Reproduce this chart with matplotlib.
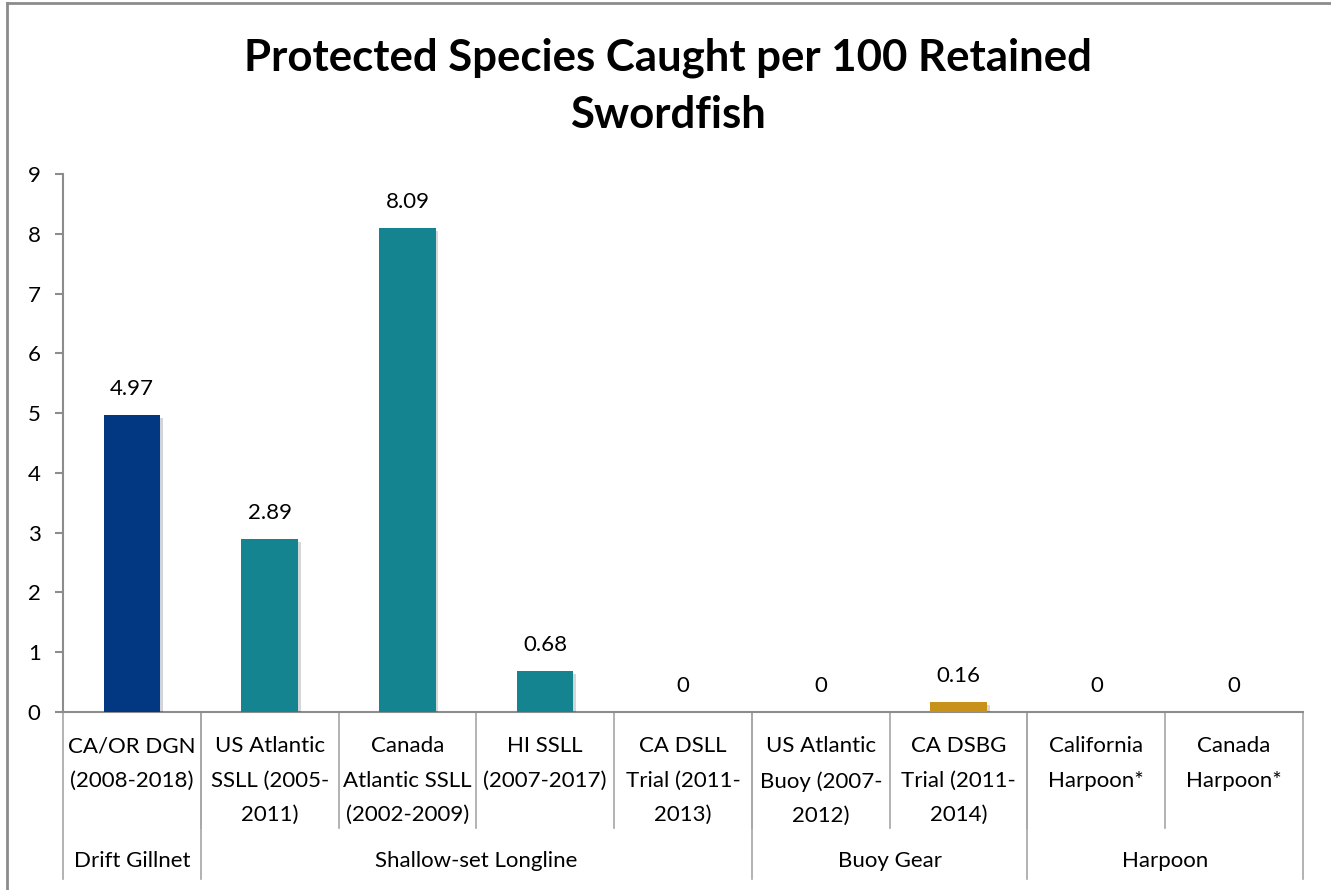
import matplotlib.pyplot as plt
import matplotlib.patheffects as pe
from matplotlib.lines import Line2D

plt.rcParams['font.family'] = ['Lato', 'DejaVu Sans']

# catch rates per gear / fishery
categories = ["CA/OR DGN\n(2008-2018)", "US Atlantic\nSSLL (2005-\n2011)",
              "Canada\nAtlantic SSLL\n(2002-2009)", "HI SSLL\n(2007-2017)",
              "CA DSLL\nTrial (2011-\n2013)", "US Atlantic\nBuoy (2007-\n2012)",
              "CA DSBG\nTrial (2011-\n2014)", "California\nHarpoon*", "Canada\nHarpoon*"]
values = [4.97, 2.89, 8.09, 0.68, 0, 0, 0.16, 0, 0]
groups = ["Drift Gillnet", "Shallow-set Longline", "Buoy Gear", "Harpoon"]
group_sizes = [1, 4, 2, 2]
bar_colors = ["#023781", "#148491", "#148491", "#148491", "#148491",
              "#148491", "#C8921A", "#148491", "#148491"]

fig = plt.figure(figsize=(13.31, 8.90), dpi=100)
ax = fig.add_axes([0.0473, 0.2, 0.9317, 0.6045])

x = range(len(values))
bars = ax.bar(x, values, width=0.41, color=bar_colors, zorder=3)
for b in bars:
    b.set_path_effects([pe.SimplePatchShadow(offset=(2, -2), alpha=0.18), pe.Normal()])
for xi, v in zip(x, values):
    ax.annotate(f"{v:g}" if v == 0 else f"{v:.2f}", (xi, v), xytext=(0, 19),
                textcoords="offset points", ha="center", va="center", fontsize=16)

ax.set_xlim(-0.5, len(values) - 0.5)
ax.set_ylim(0, 9)
ax.set_yticks(range(10))
ax.tick_params(axis="y", labelsize=16, length=6, width=1.5, color="#8c8c8c", pad=10)
ax.set_xticks([])
for s in ["top", "right"]:
    ax.spines[s].set_visible(False)
for s in ["left", "bottom"]:
    ax.spines[s].set_color("#8c8c8c")
    ax.spines[s].set_linewidth(1.5)

# two-level category axis
trans = ax.get_xaxis_transform()
for xi, lab in zip(x, categories):
    ax.text(xi, -0.045, lab, transform=trans, ha="center", va="top",
            fontsize=16, linespacing=1.9)
for i in range(1, len(values)):
    ax.plot([i - 0.5, i - 0.5], [0, -0.215], transform=trans, color="#a6a6a6",
            lw=1.2, clip_on=False)
start = 0
edges = [-0.5]
for g, n in zip(groups, group_sizes):
    ax.text(start + (n - 1) / 2, -0.277, g, transform=trans, ha="center",
            va="center", fontsize=16)
    start += n
    edges.append(start - 0.5)
for e in edges:
    ax.plot([e, e], [0, -0.31], transform=trans, color="#a6a6a6", lw=1.2,
            clip_on=False)

fig.text(0.502, 0.903, "Protected Species Caught per 100 Retained\nSwordfish",
         ha="center", va="center", fontsize=31.5, fontweight="bold", linespacing=1.5)

# chart area border
fig.add_artist(Line2D([7 / 1331, 7 / 1331], [0, 1 - 3 / 890], color="#8c8c8c", lw=2))
fig.add_artist(Line2D([7 / 1331, 1], [1 - 3 / 890, 1 - 3 / 890], color="#8c8c8c", lw=2))

fig.savefig("out.png", dpi=100)
